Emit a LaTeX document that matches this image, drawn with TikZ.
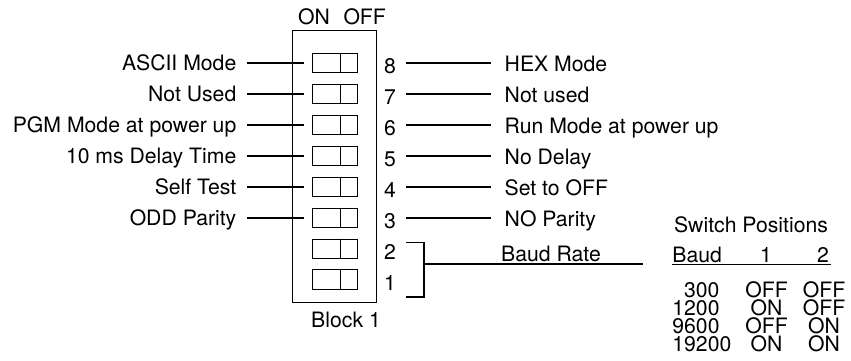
\documentclass[tikz,border=0pt]{standalone}
\usepackage{fontspec}
\setmainfont{TeX Gyre Heros}
\usetikzlibrary{calc}

\begin{document}
\begin{tikzpicture}[
  x=0.5pt, y=-0.5pt,
  every node/.style={font=\fontsize{10.6}{12}\selectfont, inner sep=0pt},
  switch/.style={draw, line width=0.5pt, minimum width=22.5pt, minimum height=9.7pt},
  lead/.style={line width=0.85pt},
  thin line/.style={line width=0.5pt}
]
\useasboundingbox (0,0) rectangle (851,360);

% the DIP block
\draw[thin line] (292.7,30.7) rectangle (376.7,302.7);
\node[anchor=base] (on) at (314,24) {ON};
\node[anchor=base] (off) at (364.7,24) {OFF};
\node[anchor=base] (block) at (346,327.5) {Block 1};

\foreach[evaluate=\n as \ry using {63+(8-\n)*30.95}] \n in {1,...,8}
{
  \node[switch] (sw\n) at (334.8,\ry) {};
  \draw[thin line] ($(sw\n.north west)!0.615!(sw\n.north east)$)
    -- ($(sw\n.south west)!0.615!(sw\n.south east)$);
  \node[anchor=base] (num\n) at (390,\ry+10.5) {\n};
}

% ON and OFF meaning of each switch
\foreach[evaluate=\n as \ry using {63+(8-\n)*30.95}] \n/\onside/\offside in {
  8/ASCII Mode/HEX Mode,
  7/Not Used/Not used,
  6/PGM Mode at power up/Run Mode at power up,
  5/10 ms Delay Time/No Delay,
  4/Self Test/Set to OFF,
  3/ODD Parity/NO Parity}
{
  \node[anchor=base east] (onlbl\n) at (236.7,\ry+7.3) {\onside};
  \node[anchor=base west] (offlbl\n) at (504.3,\ry+8.5) {\offside};
  \draw[lead, shorten <=5pt, shorten >=4.15pt] (sw\n.west -| onlbl\n.east) -- (sw\n.west);
  \draw[lead, shorten <=5pt, shorten >=6.65pt] (sw\n.east -| num\n.east) -- (sw\n.east -| offlbl\n.west);
}

% baud rate bracket for switches 1 and 2
\coordinate (brtop) at (406,242.5);
\coordinate (brbot) at (406,297);
\coordinate (brmid) at (423.8,264.3);
\coordinate (baudend) at (643,264.3);
\draw[lead] (brtop) -| (brbot -| brmid) -- (brbot);
\draw[lead] (brmid) -- (baudend);
\node[anchor=base] (baudrate) at (551,261.5) {Baud Rate};

% switch positions table
\node[anchor=base] (swpos) at (751,232.6) {Switch Positions};
\node[anchor=base west] (hdbaud) at (672,262.5) {Baud};
\node[anchor=base] (hdone) at (766,262.5) {1};
\node[anchor=base] (hdtwo) at (823,262.5) {2};
\draw[line width=0.7pt] ([yshift=-1pt]hdbaud.base west) -- ([yshift=-1pt,xshift=1pt]hdbaud.base west -| hdtwo.base east);
\foreach[count=\i from 0] \indent/\rate/\sa/\sb in {11.7/300/OFF/OFF, 0/1200/ON/OFF, 0/9600/OFF/ON, 0/19200/ON/ON}
{
  \node[anchor=base west] (rate\i) at (672+\indent,297+\i*18) {\rate};
  \node[anchor=base] (sa\i) at (766.5,297+\i*18) {\sa};
  \node[anchor=base] (sb\i) at (824,297+\i*18) {\sb};
}
\end{tikzpicture}
\end{document}
